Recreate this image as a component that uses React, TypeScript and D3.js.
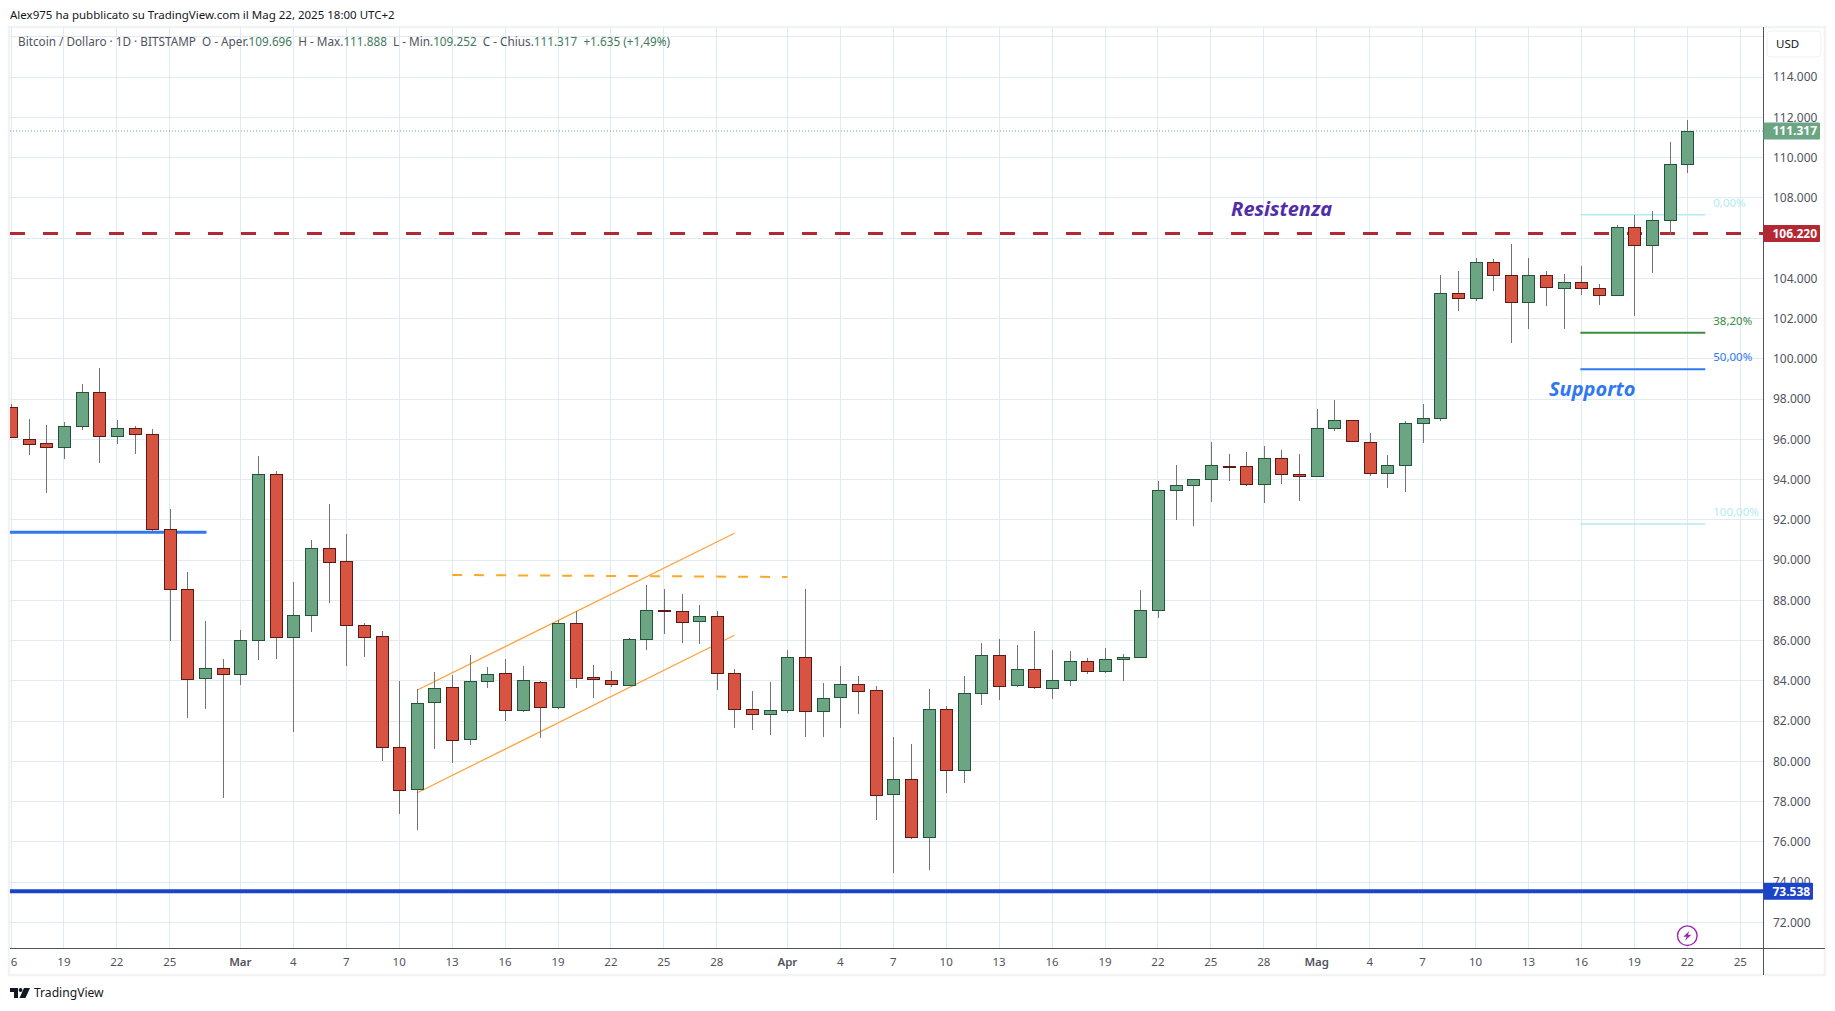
import React from "react";
import * as d3 from "d3";

// Daily OHLC, first candle 16 Feb 2025
const startDate = "2025-02-16";
const opens = [97589,96032,95800,95602,96645,98334,96148,96546,96248,91528,88547,84122,84619,84321,86013,94260,86163,87255,90584,89938,86759,86213,80694,78610,82932,83677,81093,83975,84372,82534,83925,82683,86856,84174,84025,83776,86061,87502,87453,86956,87204,84372,82584,82336,82534,85167,82485,83180,83825,83527,78360,79105,76224,82583,79552,83378,85265,83775,84570,83626,84024,84967,84471,85067,85166,87501,93466,93715,94013,94680,94659,93765,95056,94261,94162,96547,96944,95851,94311,94708,96795,97043,103253,103005,104793,104148,102806,104148,103504,103802,103504,103156,106534,105640,106882,109696];
const highs = [97754,97009,96711,96860,98748,99543,96960,96662,96513,92538,89400,86974,85086,86527,95171,94426,88912,90998,92786,91296,86858,86480,83973,83577,84422,84290,85283,84687,85084,84737,83992,87022,87469,84786,84488,86128,88761,88562,88314,87767,87469,84588,83495,83942,85532,88562,83892,84737,84239,83725,81208,80861,83593,82732,84239,85878,86077,85779,86474,85530,85481,85133,85630,85332,88511,93930,94725,94013,95868,95272,95371,95669,95470,95272,97507,97954,96944,96315,95222,96894,97755,104164,104363,105009,104959,105704,105009,104363,104216,104613,103719,106634,107147,107345,110773,111888];
const lows = [96082,95221,93333,95039,96479,94840,95784,95287,91329,85980,82168,82615,78194,83808,85053,85103,81473,86444,87885,84752,85199,80032,77399,76606,80630,79934,80829,83660,82004,82468,81160,82584,83660,83164,83710,83776,85548,86343,85896,85846,83561,81673,81574,81325,82418,81226,81226,81673,82367,77101,74468,76158,74617,78443,78940,82815,83063,83709,83610,83113,83742,84355,84405,84007,85166,87137,92009,91711,92903,93947,93698,92854,93798,92953,94162,96431,95851,94195,93599,93400,95835,96928,102392,102889,103386,100803,101498,102641,101500,103189,102692,103156,102129,104282,106153,109252];
const closes = [96132,95751,95602,96645,98334,96148,96546,96248,91528,88547,84073,84619,84321,86013,94260,86163,87255,90584,89888,86759,86163,80694,78558,82882,83627,81044,83975,84323,82534,84025,82683,86856,84124,84074,83826,86061,87502,87470,86906,87204,84372,82584,82336,82534,85167,82485,83130,83826,83477,78310,79105,76224,82583,79552,83378,85265,83725,84570,83676,84024,84967,84471,85067,85166,87501,93466,93715,94013,94708,94660,93765,95056,94261,94162,96547,96944,95901,94311,94708,96795,97043,103253,103005,104793,104148,102806,104148,103553,103802,103504,103156,106534,105640,106882,109664,111317];

const priceTicks = [72000,76000,78000,80000,82000,84000,86000,88000,90000,92000,94000,96000,98000,100000,102000,104000,108000,110000,112000,114000];
const hiddenPriceTicks = [74000,106000,116000];
const timeTickDates = ["2025-02-16","2025-02-19","2025-02-22","2025-02-25","2025-03-01","2025-03-04","2025-03-07","2025-03-10","2025-03-13","2025-03-16","2025-03-19","2025-03-22","2025-03-25","2025-03-28","2025-04-01","2025-04-04","2025-04-07","2025-04-10","2025-04-13","2025-04-16","2025-04-19","2025-04-22","2025-04-25","2025-04-28","2025-05-01","2025-05-04","2025-05-07","2025-05-10","2025-05-13","2025-05-16","2025-05-19","2025-05-22","2025-05-25"];
const timeTickLabels = ["6","19","22","25","Mar","4","7","10","13","16","19","22","25","28","Apr","4","7","10","13","16","19","22","25","28","Mag","4","7","10","13","16","19","22","25"];

const lastPrice = 111317;
const resistance = 106220;
const floorPrice = 73538;
const shelfPrice = 91378;
const shelfEndDay = 11.08;
const channelUpper = [[23.03,83543],[41,91328]];
const channelLower = [[23.03,78440],[41,86261]];
const neckline = [[25,89258],[44,89158]];
const fibHigh = 107160;
const fibLow = 91790;
const fibStartDay = 88.94;
const fibEndDay = 96.02;
const fibLevels = [
  { ratio: 0, label: "0,00%", color: "#b2ebf2" },
  { ratio: 0.382, label: "38,20%", color: "#388e3c" },
  { ratio: 0.5, label: "50,00%", color: "#2f78f0" },
  { ratio: 1, label: "100,00%", color: "#b2ebf2" },
];

const UI = "'Noto Sans', sans-serif";
const GRID = "#e0eaf1";
const AXIS = "#50535e";
const TXT = "#50535e";
const UP = "#6ba583", UPB = "#225437", DN = "#d75442", DNB = "#5b1a13", WICK = "#737375";
const GREEN_TXT = "#3f7a5c";

const start = new Date(startDate + "T00:00:00Z");
const x0 = d3.scaleUtc().domain([start, d3.utcDay.offset(start, 95)]).range([11, 1687.3]);
const xDay = (d: number) => x0(start.getTime() + d * 86400000);
const y = d3.scaleLinear().domain([72000, 112000]).range([922.3, 117.3]);

const L = 10, R = 1763, T = 27, B = 948;
const chanLine = d3.line<number[]>().x((d) => xDay(d[0])).y((d) => y(d[1]));

export default function App() {
  const legendTokens: [string, string][] = [
    ["Bitcoin / Dollaro · 1D · BITSTAMP  O - Aper.", TXT], ["109.696", GREEN_TXT],
    ["  H - Max.", TXT], ["111.888", GREEN_TXT],
    ["  L - Min.", TXT], ["109.252", GREEN_TXT],
    ["  C - Chius.", TXT], ["111.317  +1.635 (+1,49%)", GREEN_TXT],
  ];
  return (
    <svg width={1835} height={1011} viewBox="0 0 1835 1011" style={{ position: "absolute", left: 0, top: 0, display: "block", background: "#fff" }} fontFamily={UI}>
      <text x={10} y={19} fontSize={11.5} fill="#131722">Alex975 ha pubblicato su TradingView.com il Mag 22, 2025 18:00 UTC+2</text>
      <rect x={9} y={27} width={1816} height={948} fill="#fff" stroke="#f2f3f4" strokeWidth={2.5} />
      <defs><clipPath id="pane"><rect x={L} y={T} width={R - L} height={B - T} /></clipPath></defs>
      <g clipPath="url(#pane)">
        <g stroke={GRID} strokeWidth={1} shapeRendering="crispEdges">
          {[...priceTicks, ...hiddenPriceTicks].map((p) => <line key={p} x1={L} x2={R} y1={y(p)} y2={y(p)} />)}
          {timeTickDates.map((d) => { const X = x0(new Date(d + "T00:00:00Z")); return <line key={d} x1={X} x2={X} y1={T} y2={B} />; })}
        </g>
        <text x={18} y={46} fontSize={11.75} fill={TXT} xmlSpace="preserve">
          {legendTokens.map(([t, c], i) => <tspan key={i} fill={c}>{t}</tspan>)}
        </text>
        <line x1={L} x2={R} y1={y(lastPrice)} y2={y(lastPrice)} stroke={UP} strokeDasharray="1 2" />
        <line x1={L} x2={xDay(shelfEndDay)} y1={y(shelfPrice)} y2={y(shelfPrice)} stroke="#2f78f0" strokeWidth={3} />
        <line x1={L} x2={R} y1={y(floorPrice)} y2={y(floorPrice)} stroke="#1c44c9" strokeWidth={4} />
        <line x1={L} x2={R} y1={y(resistance)} y2={y(resistance)} stroke="#b22833" strokeWidth={3} strokeDasharray="15 18" />
        <path d={chanLine(channelUpper as number[][]) || ""} fill="none" stroke="#ffa03a" strokeWidth={1.2} />
        <path d={chanLine(channelLower as number[][]) || ""} fill="none" stroke="#ffa03a" strokeWidth={1.2} />
        <path d={chanLine(neckline as number[][]) || ""} fill="none" stroke="#ffa726" strokeWidth={2} strokeDasharray="10 12" />
        {fibLevels.map((f) => {
          const v = fibHigh - f.ratio * (fibHigh - fibLow);
          return (
            <g key={f.label}>
              <line x1={xDay(fibStartDay)} x2={xDay(fibEndDay)} y1={y(v)} y2={y(v)} stroke={f.color} strokeWidth={f.ratio === 0 || f.ratio === 1 ? 1.5 : 2} />
              <text x={xDay(fibEndDay) + 8} y={y(v) - 12} dy="0.35em" fontSize={11.5} fill={f.color}>{f.label}</text>
            </g>
          );
        })}
        {opens.map((o, i) => {
          const c = closes[i];
          const X = Math.round(xDay(i)) + 0.5;
          const top = Math.round(y(Math.max(o, c))), bot = Math.round(y(Math.min(o, c)));
          return (
            <g key={i} shapeRendering="crispEdges">
              <line x1={X} x2={X} y1={y(highs[i])} y2={y(lows[i])} stroke={WICK} />
              <rect x={X - 6} y={top + 0.5} width={12} height={Math.max(bot - top, 1)} fill={c >= o ? UP : DN} stroke={c >= o ? UPB : DNB} />
            </g>
          );
        })}
        <text x={1231} y={209} dy="0.35em" fontSize={20} fontStyle="italic" fontWeight={700} fill="#512da8">Resistenza</text>
        <text x={1549} y={389} dy="0.35em" fontSize={20} fontStyle="italic" fontWeight={700} fill="#2f78f0">Supporto</text>
        <g transform={`translate(${xDay(95)},935.7)`}>
          <circle r={9.8} fill="#fff" stroke="#9c27b0" strokeWidth={1.4} />
          <path d="M2.2,-5 L-4,1 L-0.6,1 L-2.2,5 L4,-1 L0.6,-1 Z" fill="#9c27b0" />
        </g>
      </g>
      <line x1={R + 0.5} x2={R + 0.5} y1={T} y2={975} stroke={AXIS} />
      <line x1={L} x2={1825} y1={B + 0.5} y2={B + 0.5} stroke={AXIS} />
      <rect x={1767} y={31} width={54} height={26} rx={4} fill="#fff" stroke="#f0f1f3" />
      <text x={1776} y={44} dy="0.35em" fontSize={11.5} fill="#131722">USD</text>
      {[...priceTicks, 74000].map((p) => (
        <text key={p} x={1773} y={y(p)} dy="0.35em" fontSize={12} fill={TXT}>{d3.format(",")(p).replace(",", ".")}</text>
      ))}
      {timeTickDates.map((d, i) => (
        <text key={d} x={Math.max(x0(new Date(d + "T00:00:00Z")), 14)} y={962} dy="0.35em" textAnchor="middle" fontSize={11.5} fill={TXT} fontWeight={timeTickLabels[i].length === 3 ? 600 : 400}>{timeTickLabels[i]}</text>
      ))}
      {[
        { v: lastPrice, c: UP, w: 56.5 },
        { v: resistance, c: "#b22833", w: 56.5 },
        { v: floorPrice, c: "#1c44c9", w: 49.5 },
      ].map((t) => (
        <g key={t.v}>
          <path d={`M${R + 0.5},${y(t.v) - 8.5} h${t.w - 1} q1,0 1,1 v15 q0,1 -1,1 h-${t.w - 1} z`} fill={t.c} />
          <text x={1772.5} y={y(t.v)} dy="0.35em" fontSize={12} fontWeight={700} fill="#fff">{d3.format(",")(t.v).replace(",", ".")}</text>
        </g>
      ))}
      <g transform="translate(10,988)" fill="#131722">
        <path d="M0,0 H8 V10 H4 V4 H0 Z" />
        <circle cx={10.6} cy={2} r={1.9} />
        <path d="M14,0 H20 L15.5,10 H9.5 Z" />
      </g>
      <text x={34} y={993} dy="0.35em" fontSize={12.1} fill="#131722">TradingView</text>
    </svg>
  );
}
